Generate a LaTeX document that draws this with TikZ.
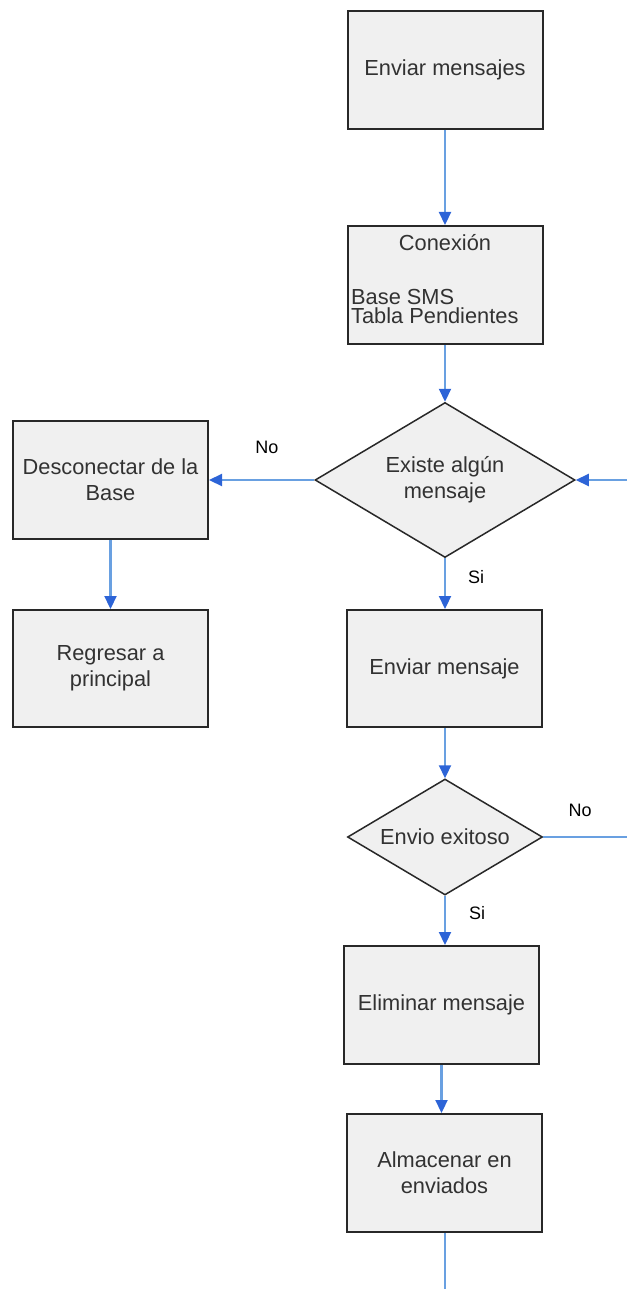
\documentclass[tikz,border=0pt]{standalone}
\usepackage{fontspec}
\setmainfont{Liberation Sans}
\usetikzlibrary{arrows.meta,shapes.geometric}

\definecolor{boxfill}{RGB}{240,240,240}
\definecolor{boxline}{RGB}{40,40,40}
\definecolor{boxtext}{RGB}{50,50,50}
\definecolor{flowline}{RGB}{105,160,225}
\definecolor{flowhead}{RGB}{45,100,215}

\tikzset{
  stepbox/.style={draw=boxline, fill=boxfill, line width=2pt,
    minimum width=195pt, minimum height=118pt, inner sep=0pt,
    text=boxtext, align=center,
    font=\fontsize{21.8}{26}\selectfont},
  decision/.style={diamond, draw=boxline, fill=boxfill, line width=1.5pt,
    inner sep=0pt, text=boxtext, align=center,
    font=\fontsize{21.8}{26}\selectfont},
  boxtxt/.style={text=boxtext, inner sep=0pt, font=\fontsize{21.8}{26}\selectfont},
  flow/.style={draw=flowline, line width=2.2pt,
    -{Triangle[length=13pt,width=12pt,color=flowhead,fill=flowhead]}},
  plainflow/.style={draw=flowline, line width=2.2pt},
  answer/.style={font=\fontsize{18}{20}\selectfont, text=black, inner sep=0pt}
}

\begin{document}
\begin{tikzpicture}[x=1pt,y=-1pt]
  \useasboundingbox (0,0) rectangle (627,1289);

  % main column
  \node[stepbox] (env) at (445,70) {Enviar mensajes};
  \node[stepbox] (conex) at (445,285) {};
  \node[boxtxt] (conextit) at (445,243) {Conexión};
  \node[boxtxt, anchor=west] (conexa) at (351,297) {Base SMS};
  \node[boxtxt, anchor=west] (conexb) at (351,316) {Tabla Pendientes};

  \node[decision, minimum width=260pt, minimum height=155pt, aspect=1.677]
    (exist) at (445,480) {Existe algún\\mensaje};

  \node[stepbox, minimum height=117pt] (envm) at (444.5,668.5) {Enviar mensaje};

  \node[decision, minimum width=195pt, minimum height=116pt, aspect=1.681]
    (exito) at (445,837) {Envio exitoso};

  \node[stepbox] (elim) at (441.5,1005) {Eliminar mensaje};
  \node[stepbox] (alm) at (444.5,1173) {Almacenar en\\enviados};

  % left branch
  \node[stepbox] (desc) at (110.5,480) {Desconectar de la\\Base};
  \node[stepbox, minimum height=117pt] (regr) at (110.5,668.5) {Regresar a\\principal};

  % loose ends at the picture border
  \coordinate (loopin) at (627,480);
  \coordinate (loopout) at (627,837);
  \coordinate (tail) at (445,1289);

  % connectors
  \draw[flow] (env.south) -- (conex.north);
  \draw[flow] (conex.south) -- (exist.north);
  \draw[flow] (exist.west) -- (desc.east);
  \draw[flow] (desc.south) -- (regr.north);
  \draw[flow] (exist.south) -- (envm.north -| exist.south);
  \draw[flow] (loopin) -- (exist.east);
  \draw[flow] (envm.south -| exito.north) -- (exito.north);
  \draw[plainflow] (exito.east) -- (loopout);
  \draw[flow] (exito.south) -- (elim.north -| exito.south);
  \draw[flow] (elim.south) -- (alm.north -| elim.south);
  \draw[plainflow] (alm.south -| tail) -- (tail);

  % branch labels
  \node[answer] (no1) at (267,447) {No};
  \node[answer] (si1) at (476,577) {Si};
  \node[answer] (no2) at (580,810) {No};
  \node[answer] (si2) at (477,913) {Si};
\end{tikzpicture}
\end{document}
